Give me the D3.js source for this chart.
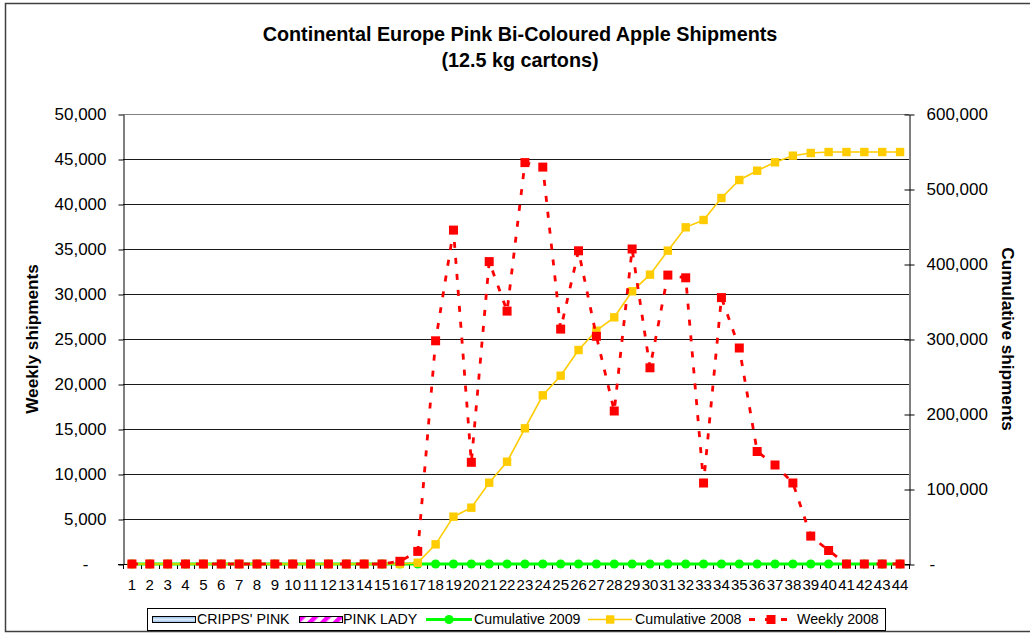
<!DOCTYPE html>
<html>
<head>
<meta charset="utf-8">
<script src="https://cdn.jsdelivr.net/npm/d3@7/dist/d3.min.js"></script>
<style>
body{margin:0;background:#fff;}
svg{display:block;font-family:"Liberation Sans",Arial,sans-serif;}
</style>
</head>
<body>
<div id="chart"></div>
<script>
var weeks = ["1","2","3","4","5","6","7","8","9","10","11","12","13","14","15","16","17","18","19","20","21","22",
    "23","24","25","26","27","28","29","30","31","32","33","34","35","36","37","38","39","40","41","42","43","44"];

var weekly2008 = [0,0,0,0,0,0,0,0,0,0,0,0,0,0,0,300,1400,24800,37100,11300,33600,28100,
    44600,44100,26100,34800,25300,17000,35000,21800,32100,31800,9000,29600,24000,12500,11000,9000,3100,1500,0,0,0,0];

var cumulative2008 = [0,0,0,0,0,0,0,0,0,0,0,0,0,0,0,0,1700,26200,63100,75100,108400,136400,
    180900,224900,251100,285300,311100,328900,363600,385800,417800,448900,458700,488000,512000,524400,535600,544400,548000,549300,549300,549300,549300,549300];

var cumulative2009 = [0,0,0,0,0,0,0,0,0,0,0,0,0,0,0,0,0,0,0,0,0,0,
    0,0,0,0,0,0,0,0,0,0,0,0,0,0,0,0,0,0,0,0,0,0];

var leftTicks = [0,5000,10000,15000,20000,25000,30000,35000,40000,45000,50000];
var rightTicks = [0,100000,200000,300000,400000,500000,600000];

var legendNames = ["CRIPPS' PINK","PINK LADY","Cumulative 2009","Cumulative 2008","Weekly 2008"];

var margin={
    left:123,
    right:121,
    top:114,
    bottom:70
},
width=1030,
height=634;

var svg = d3.select("#chart")
    .append("svg")
    .attr("width", width)
    .attr("height", height);

var defs = svg.append("defs");

var grad = defs.append("linearGradient").attr("id","blueFill")
    .attr("x1",0).attr("y1",0).attr("x2",0).attr("y2",1);
grad.append("stop").attr("offset","0%").attr("stop-color","#8fb8e8");
grad.append("stop").attr("offset","50%").attr("stop-color","#dcebfb");
grad.append("stop").attr("offset","100%").attr("stop-color","#8fb8e8");

var pat = defs.append("pattern").attr("id","pinkStripes")
    .attr("patternUnits","userSpaceOnUse")
    .attr("width",9).attr("height",9)
    .attr("patternTransform","rotate(45)");
pat.append("rect").attr("width",9).attr("height",9).attr("fill","#fff");
pat.append("rect").attr("width",4.5).attr("height",9).attr("fill","#ff00ff");

// chart frame
svg.append("rect")
    .attr("x",5.5).attr("y",3.5)
    .attr("width",width).attr("height",628)
    .attr("fill","none")
    .attr("stroke","#404040")
    .attr("stroke-width",1.5);

var x = d3.scaleBand()
    .domain(weeks)
    .range([margin.left, width-margin.right]);

var cx = function(d){ return x(d) + x.bandwidth()/2; };

var yL = d3.scaleLinear()
    .domain([0,50000])
    .range([height-margin.bottom, margin.top]);

var yR = d3.scaleLinear()
    .domain([0,600000])
    .range([height-margin.bottom, margin.top]);

var format = d3.format(",d");
var tickFmt = function(d){ return d === 0 ? "-" : format(d); };

// gridlines
svg.append("g")
    .selectAll("line")
    .data(leftTicks.filter(function(d){ return d > 0; }))
    .enter()
    .append("line")
    .attr("x1",margin.left)
    .attr("x2",width-margin.right)
    .attr("y1",function(d){ return Math.round(yL(d))+0.5; })
    .attr("y2",function(d){ return Math.round(yL(d))+0.5; })
    .attr("stroke",function(d){ return d === 50000 ? "#808080" : "#1a1a1a"; })
    .attr("stroke-width",1);

// left axis
var gL = svg.append("g")
    .attr("transform","translate("+(margin.left+0.5)+",0.5)")
    .call(d3.axisLeft(yL).tickValues(leftTicks).tickFormat(tickFmt).tickSize(5).tickSizeOuter(0).tickPadding(12));
gL.selectAll("text").attr("font-size",17).attr("font-family","Liberation Sans, Arial, sans-serif").attr("fill","#000")
    .filter(function(d){ return d === 0; }).attr("x",-35);

// right axis
var gR = svg.append("g")
    .attr("transform","translate("+(width-margin.right+0.5)+",0.5)")
    .call(d3.axisRight(yR).tickValues(rightTicks).tickFormat(tickFmt).tickSize(5).tickSizeOuter(0).tickPadding(12));
gR.selectAll(".tick line").attr("x1",-5);
gR.selectAll("text").attr("font-size",17).attr("font-family","Liberation Sans, Arial, sans-serif").attr("fill","#000")
    .filter(function(d){ return d === 0; }).attr("x",20);

// bottom axis
var gB = svg.append("g")
    .attr("transform","translate(0,"+(height-margin.bottom+0.5)+")")
    .call(d3.axisBottom(x).tickSize(0).tickSizeOuter(0).tickPadding(15));
gB.select(".domain").attr("d","M"+(margin.left-5)+",0H"+(width-margin.right));
gB.selectAll("text").attr("font-size",15).attr("font-family","Liberation Sans, Arial, sans-serif").attr("fill","#000");

svg.append("g")
    .selectAll("line")
    .data(weeks.concat(["end"]))
    .enter()
    .append("line")
    .attr("x1",function(d){ return Math.round(d === "end" ? width-margin.right : x(d))+0.5; })
    .attr("x2",function(d){ return Math.round(d === "end" ? width-margin.right : x(d))+0.5; })
    .attr("y1",height-margin.bottom)
    .attr("y2",height-margin.bottom+5)
    .attr("stroke","#000");

// series
var lineL = d3.line()
    .x(function(d,i){ return cx(weeks[i]); })
    .y(function(d){ return yL(d); });
var lineR = d3.line()
    .x(function(d,i){ return cx(weeks[i]); })
    .y(function(d){ return yR(d); });

svg.append("path")
    .datum(cumulative2009)
    .attr("d",lineR)
    .attr("fill","none")
    .attr("stroke","#00ff00")
    .attr("stroke-width",3);
svg.append("g")
    .selectAll("circle")
    .data(cumulative2009)
    .enter()
    .append("circle")
    .attr("cx",function(d,i){ return cx(weeks[i]); })
    .attr("cy",function(d){ return yR(d); })
    .attr("r",4.6)
    .attr("fill","#00ff00");

svg.append("path")
    .datum(cumulative2008)
    .attr("d",lineR)
    .attr("fill","none")
    .attr("stroke","#ffcc00")
    .attr("stroke-width",1.6);
svg.append("g")
    .selectAll("rect")
    .data(cumulative2008)
    .enter()
    .append("rect")
    .attr("x",function(d,i){ return cx(weeks[i])-4.2; })
    .attr("y",function(d){ return yR(d)-4.2; })
    .attr("width",8.4)
    .attr("height",8.4)
    .attr("fill","#ffcc00");

svg.append("path")
    .datum(weekly2008)
    .attr("d",lineL)
    .attr("fill","none")
    .attr("stroke","#ff0000")
    .attr("stroke-width",2.8)
    .attr("stroke-dasharray","6,10");
svg.append("g")
    .selectAll("rect")
    .data(weekly2008)
    .enter()
    .append("rect")
    .attr("x",function(d,i){ return cx(weeks[i])-4.5; })
    .attr("y",function(d){ return yL(d)-4.5; })
    .attr("width",9)
    .attr("height",9)
    .attr("fill","#ff0000");

// titles
svg.append("text")
    .attr("x",520).attr("y",41)
    .attr("text-anchor","middle")
    .attr("font-size",19.8).attr("font-weight","bold")
    .text("Continental Europe Pink Bi-Coloured Apple Shipments");
svg.append("text")
    .attr("x",520).attr("y",67)
    .attr("text-anchor","middle")
    .attr("font-size",19.8).attr("font-weight","bold")
    .text("(12.5 kg cartons)");

svg.append("text")
    .attr("transform","translate(32,"+((margin.top+height-margin.bottom)/2)+") rotate(-90)")
    .attr("text-anchor","middle")
    .attr("dy","0.35em")
    .attr("font-size",17.2).attr("font-weight","bold")
    .text("Weekly shipments");
svg.append("text")
    .attr("transform","translate(1008,"+((margin.top+height-margin.bottom)/2)+") rotate(90)")
    .attr("text-anchor","middle")
    .attr("dy","0.35em")
    .attr("font-size",17.2).attr("font-weight","bold")
    .text("Cumulative shipments");

// legend
var lg = svg.append("g");
lg.append("rect")
    .attr("x",147.5).attr("y",608.5)
    .attr("width",738).attr("height",22)
    .attr("fill","#fff").attr("stroke","#000");
var ly = 619.5;

lg.append("rect").attr("x",152.5).attr("y",616.5).attr("width",43).attr("height",6)
    .attr("fill","url(#blueFill)").attr("stroke","#000");
lg.append("rect").attr("x",299.5).attr("y",616.5).attr("width",43).attr("height",6)
    .attr("fill","url(#pinkStripes)").attr("stroke","#000");

lg.append("line").attr("x1",426).attr("x2",472).attr("y1",ly).attr("y2",ly)
    .attr("stroke","#00ff00").attr("stroke-width",3);
lg.append("circle").attr("cx",449).attr("cy",ly).attr("r",4.6).attr("fill","#00ff00");

lg.append("line").attr("x1",588).attr("x2",632).attr("y1",ly).attr("y2",ly)
    .attr("stroke","#ffcc00").attr("stroke-width",1.6);
lg.append("rect").attr("x",606).attr("y",ly-4.2).attr("width",8.4).attr("height",8.4).attr("fill","#ffcc00");

lg.append("line").attr("x1",749).attr("x2",788).attr("y1",ly).attr("y2",ly)
    .attr("stroke","#ff0000").attr("stroke-width",2.8).attr("stroke-dasharray","6,10");
lg.append("rect").attr("x",766.5).attr("y",ly-4.5).attr("width",9).attr("height",9).attr("fill","#ff0000");

var legendX = [197,343,474,635,797];
lg.selectAll("text.lt")
    .data(legendNames)
    .enter()
    .append("text")
    .attr("class","lt")
    .attr("x",function(d,i){ return legendX[i]; })
    .attr("y",ly)
    .attr("dy","0.35em")
    .attr("font-size",14.2)
    .text(function(d){ return d; });
</script>
</body>
</html>
